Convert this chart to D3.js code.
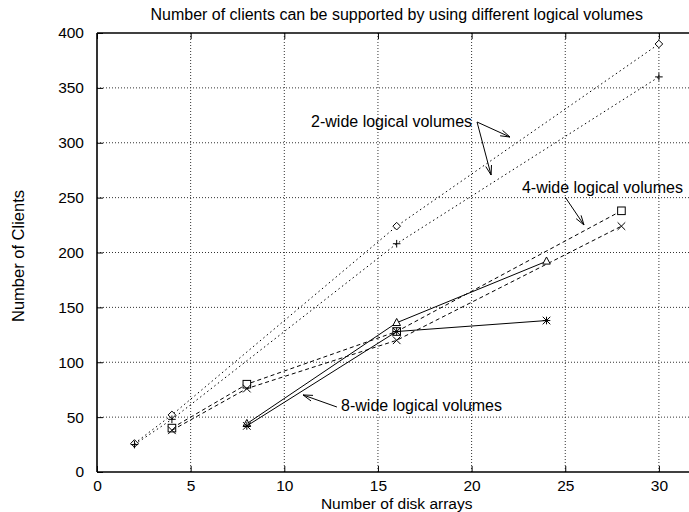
<!DOCTYPE html>
<html><head><meta charset="utf-8">
<script src="https://cdn.jsdelivr.net/npm/d3@7"></script>
<style>body{margin:0;background:#fff}svg{display:block}text{font-family:"Liberation Sans",Arial,sans-serif;fill:#000}</style>
</head><body>
<svg id="c" width="689" height="512"></svg>
<script>
// ---- data ----
const xTicks = [0, 5, 10, 15, 20, 25, 30];
const yTicks = [0, 50, 100, 150, 200, 250, 300, 350, 400];
const disks2 = [2, 4, 16, 30];
const clients2Diamond = [26, 52, 224, 390];
const clients2Plus = [25, 48, 208, 360];
const disks4 = [4, 8, 16, 28];
const clients4Square = [40, 80, 128, 238];
const clients4Cross = [38, 76, 120, 224];
const disks8 = [8, 16, 24];
const clients8Triangle = [44, 136, 192];
const clients8Star = [42, 128, 138];
const titleText = "Number of clients can be supported by using different logical volumes";
const xLabel = "Number of disk arrays";
const yLabel = "Number of Clients";
const labels = ["2-wide logical volumes", "4-wide logical volumes", "8-wide logical volumes"];

// ---- drawing ----
const svg = d3.select("#c");
const x = d3.scaleLinear().domain([0, 32]).range([97, 97 + 32 * 18.73]);
const y = d3.scaleLinear().domain([0, 400]).range([472, 33]);
const X0 = x(0), X1 = x(32), Y0 = y(0), Y1 = y(400);
const FONT = '"Liberation Sans",Arial,sans-serif';

// grid
const g = svg.append("g");
g.selectAll(".gx").data(xTicks.filter(d => d > 0)).join("line")
  .attr("x1", d => x(d)).attr("x2", d => x(d)).attr("y1", Y0).attr("y2", Y1)
  .attr("stroke", "#333").attr("stroke-width", 1).attr("stroke-dasharray", "1,2");
g.selectAll(".gy").data(yTicks.filter(d => d > 0 && d < 400)).join("line")
  .attr("y1", d => y(d)).attr("y2", d => y(d)).attr("x1", X0).attr("x2", X1)
  .attr("stroke", "#333").attr("stroke-width", 1).attr("stroke-dasharray", "1,2");

// axes using d3 axes (inward ticks)
const axB = svg.append("g").attr("transform", `translate(0,${Y0})`)
  .call(d3.axisBottom(x).tickValues(xTicks).tickSize(-6).tickPadding(8).tickFormat(d3.format("d")));
const axT = svg.append("g").attr("transform", `translate(0,${Y1})`)
  .call(d3.axisTop(x).tickValues(xTicks).tickSize(-6).tickFormat(""));
const axL = svg.append("g").attr("transform", `translate(${X0},0)`)
  .call(d3.axisLeft(y).tickValues(yTicks).tickSize(-6).tickPadding(13).tickFormat(d3.format("d")));
[axB, axT, axL].forEach(a => {
  a.select(".domain").attr("stroke", "#000").attr("stroke-width", 1.6);
  a.selectAll(".tick line").attr("stroke", "#000").attr("stroke-width", 1);
  a.selectAll("text").style("font-size", "15.5px").style("font-family", FONT);
});
axB.select(".domain").attr("d", `M${X0},0H${X1}`);
axT.select(".domain").attr("d", `M${X0},0H${X1}`);
axL.select(".domain").attr("d", `M0,${Y0}V${Y1}`);

// lines
const line = d3.line().x(d => x(d[0])).y(d => y(d[1]));
function series(xs, ys, dash, marker) {
  const pts = xs.map((d, i) => [d, ys[i]]);
  svg.append("path").attr("d", line(pts)).attr("fill", "none")
    .attr("stroke", "#000").attr("stroke-width", 1).attr("stroke-dasharray", dash);
  pts.forEach(p => drawMarker(x(p[0]), y(p[1]), marker));
}
function drawMarker(cx, cy, type) {
  const s = 3.8;
  const st = { stroke: "#000", "stroke-width": 1, fill: "none" };
  const add = (tag, attrs) => { const e = svg.append(tag); Object.entries({...st, ...attrs}).forEach(([k, v]) => e.attr(k, v)); };
  if (type === "diamond") add("path", { d: `M${cx},${cy - s}L${cx + s},${cy}L${cx},${cy + s}L${cx - s},${cy}Z`, fill: "#fff" });
  if (type === "plus" || type === "star") add("path", { d: `M${cx - s},${cy}H${cx + s}M${cx},${cy - s}V${cy + s}` });
  if (type === "cross" || type === "star") add("path", { d: `M${cx - s},${cy - s}L${cx + s},${cy + s}M${cx - s},${cy + s}L${cx + s},${cy - s}` });
  if (type === "square") add("rect", { x: cx - s, y: cy - s, width: 2 * s, height: 2 * s, fill: "#fff" });
  if (type === "triangle") add("path", { d: `M${cx},${cy - s - 0.5}L${cx + s},${cy + s - 1}L${cx - s},${cy + s - 1}Z`, fill: "#fff" });
}
series(disks2, clients2Diamond, "1.5,3", "diamond");
series(disks2, clients2Plus, "1.5,3", "plus");
series(disks4, clients4Square, "4,3", "square");
series(disks4, clients4Cross, "4,3", "cross");
series(disks8, clients8Triangle, null, "triangle");
series(disks8, clients8Star, null, "star");

// annotations
function arrow(x1, y1, x2, y2) {
  svg.append("line").attr("x1", x1).attr("y1", y1).attr("x2", x2).attr("y2", y2)
    .attr("stroke", "#000").attr("stroke-width", 1);
  const a = Math.atan2(y2 - y1, x2 - x1), L = 10, h = 0.3;
  const p1 = [x2 - L * Math.cos(a - h), y2 - L * Math.sin(a - h)];
  const p2 = [x2 - L * Math.cos(a + h), y2 - L * Math.sin(a + h)];
  svg.append("path").attr("d", `M${p1}L${x2},${y2}L${p2}`).attr("fill", "none")
    .attr("stroke", "#000").attr("stroke-width", 1);
}
const ann = svg.append("g").style("font-size", "16px");
ann.append("text").attr("x", x(11.43)).attr("y", y(319.8)).attr("dy", "0.35em").text(labels[0]);
arrow(x(20.29), y(318.9), x(22.05), y(305.2));
arrow(x(20.29), y(318.9), x(21.04), y(270.6));
ann.append("text").attr("x", x(22.69)).attr("y", y(259.7)).attr("dy", "0.35em").text(labels[1]);
arrow(x(24.99), y(250.6), x(26.0), y(225.1));
ann.append("text").attr("x", x(13.03)).attr("y", y(61)).attr("dy", "0.35em").text(labels[2]);
arrow(x(12.81), y(59.2), x(11.0), y(70.2));

// titles (centred on the plot area, as gnuplot does)
const cx = (X0 + X1) / 2;
svg.append("text").attr("x", cx).attr("y", 14).attr("dy", "0.35em").attr("text-anchor", "middle")
  .style("font-size", "16px").text(titleText);
svg.append("text").attr("x", cx).attr("y", 504).attr("dy", "0.35em").attr("text-anchor", "middle")
  .style("font-size", "15.5px").text(xLabel);
svg.append("text").attr("transform", "translate(18,256) rotate(-90)").attr("dy", "0.35em").attr("text-anchor", "middle")
  .style("font-size", "16.5px").text(yLabel);
</script>
</body></html>
